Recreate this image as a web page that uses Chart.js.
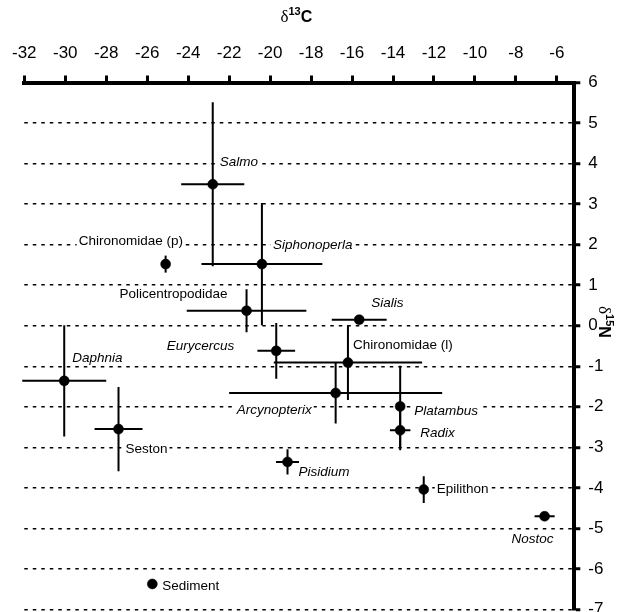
<!DOCTYPE html>
<html>
<head>
<meta charset="utf-8">
<style>
  body { margin: 0; background: #fff; }
  #wrap { width: 618px; height: 612px; overflow: hidden; }
</style>
</head>
<body>
<div id="wrap"><canvas id="mychart" width="618" height="640"></canvas></div>
<script src="https://cdn.jsdelivr.net/npm/chart.js"></script>
<script>

// taxa and their isotope means / sd
const taxa = ['Salmo', 'Chironomidae (p)', 'Siphonoperla', 'Policentropodidae', 'Sialis',
  'Chironomidae (l)', 'Eurycercus', 'Daphnia', 'Arcynopterix', 'Platambus', 'Radix',
  'Seston', 'Pisidium', 'Epilithon', 'Nostoc', 'Sediment'];
const d13C = [-22.8, -25.1, -20.4, -21.15, -15.65, -16.2, -19.7, -30.05, -16.8, -13.65, -13.65,
  -27.4, -19.15, -12.5, -6.6, -25.75];
const d15N = [3.49, 1.52, 1.52, 0.37, 0.15, -0.91, -0.62, -1.36, -1.66, -1.99, -2.58,
  -2.55, -3.36, -4.04, -4.7, -6.37];
const sdC = [1.54, 0, 2.95, 2.92, 1.34, 3.62, 0.92, 2.05, 5.2, 0.2, 0.5, 1.17, 0.56, 0.15, 0.49, 0];
const sdN = [2.02, 0.21, 1.51, 0.53, 0, 0.92, 0.69, 1.37, 0.75, 1.0, 0.49, 1.04, 0.31, 0.33, 0, 0];

const xTicks = [-32, -30, -28, -26, -24, -22, -20, -18, -16, -14, -12, -10, -8, -6];
const yTicks = [6, 5, 4, 3, 2, 1, 0, -1, -2, -3, -4, -5, -6, -7];

const FONT = '"Liberation Sans", Arial, sans-serif';

// where each name sits next to its dot (pixels), and if it is italic
const labelPos = [
  { dx: 7, dy: -22, align: 'left', it: true },
  { dx: -87, dy: -23, align: 'left', it: false },
  { dx: 11, dy: -19, align: 'left', it: true },
  { dx: -19, dy: -16, align: 'right', it: false },
  { dx: 12, dy: -16, align: 'left', it: true },
  { dx: 5, dy: -17, align: 'left', it: false },
  { dx: -42, dy: -5, align: 'right', it: true },
  { dx: 8, dy: -23, align: 'left', it: true },
  { dx: -24, dy: 17, align: 'right', it: true },
  { dx: 14, dy: 5, align: 'left', it: true },
  { dx: 20, dy: 3, align: 'left', it: true },
  { dx: 7, dy: 20, align: 'left', it: false },
  { dx: 11, dy: 10, align: 'left', it: true },
  { dx: 13, dy: 0, align: 'left', it: false },
  { dx: 9, dy: 23, align: 'right', it: true },
  { dx: 10, dy: 2, align: 'left', it: false }
];

const whiteBg = {
  id: 'whiteBg',
  beforeDraw(chart) {
    const ctx = chart.ctx;
    ctx.save();
    ctx.fillStyle = '#fff';
    ctx.fillRect(0, 0, chart.width, chart.height);
    ctx.restore();
  }
};

const errorBars = {
  id: 'errorBars',
  beforeDatasetsDraw(chart) {
    const { ctx, scales: { x, y } } = chart;
    ctx.save();
    // names first, their white boxes break the dotted lines
    ctx.textBaseline = 'middle';
    taxa.forEach((name, i) => {
      const p = labelPos[i];
      const px = x.getPixelForValue(d13C[i]);
      const py = y.getPixelForValue(d15N[i]);
      ctx.font = (p.it ? 'italic ' : '') + '13.5px ' + FONT;
      const w = ctx.measureText(name).width;
      const left = p.align === 'right' ? px + p.dx - w : px + p.dx;
      const cy = py + p.dy;
      ctx.fillStyle = '#fff';
      ctx.fillRect(left - 2, cy - 8, w + 4, 16);
      ctx.fillStyle = '#000';
      ctx.textAlign = 'left';
      ctx.fillText(name, left, cy);
    });

    ctx.strokeStyle = '#000';
    ctx.lineWidth = 2;
    d13C.forEach((c, i) => {
      const px = x.getPixelForValue(c);
      const py = y.getPixelForValue(d15N[i]);
      ctx.beginPath();
      if (sdC[i]) {
        ctx.moveTo(x.getPixelForValue(c - sdC[i]), py);
        ctx.lineTo(x.getPixelForValue(c + sdC[i]), py);
      }
      if (sdN[i]) {
        ctx.moveTo(px, y.getPixelForValue(d15N[i] + sdN[i]));
        ctx.lineTo(px, y.getPixelForValue(d15N[i] - sdN[i]));
      }
      ctx.stroke();
    });
    ctx.restore();
  }
};

function isoTitle(ctx, sup, letter) {
  const parts = [
    { t: '\u03B4', f: '17px "Liberation Serif", serif', r: 0 },
    { t: sup, f: 'bold 11px ' + FONT, r: -7 },
    { t: letter, f: 'bold 16px ' + FONT, r: 0 }
  ];
  let total = 0;
  parts.forEach(p => { ctx.font = p.f; p.w = ctx.measureText(p.t).width; total += p.w; });
  let cx = -total / 2;
  ctx.textAlign = 'left';
  ctx.textBaseline = 'alphabetic';
  ctx.fillStyle = '#000';
  parts.forEach(p => {
    ctx.font = p.f;
    ctx.fillText(p.t, cx, p.r);
    cx += p.w;
  });
}

const axisTitles = {
  id: 'axisTitles',
  afterDraw(chart) {
    const { ctx, chartArea } = chart;
    ctx.save();
    ctx.translate((chartArea.left + chartArea.right) / 2 - 3, 22);
    isoTitle(ctx, '13', 'C');
    ctx.restore();

    ctx.save();
    ctx.translate(599, 322);
    ctx.rotate(Math.PI / 2);
    isoTitle(ctx, '15', 'N');
    ctx.restore();
  }
};

let mychart = document.getElementById('mychart').getContext('2d');

let isoChart = new Chart(mychart, {
  type: 'scatter',
  data: {
    datasets: [{
      label: 'taxa',
      data: d13C.map((c, i) => ({ x: c, y: d15N[i] })),
      pointRadius: 5,
      pointBackgroundColor: '#000',
      pointBorderColor: '#000',
      pointBorderWidth: 0.5,
      clip: false
    }]
  },
  options: {
    responsive: false,
    animation: false,
    layout: { padding: { left: 21.7, right: 0, top: 0, bottom: 30.5 } },
    plugins: {
      legend: { display: false },
      tooltip: { enabled: false }
    },
    scales: {
      x: {
        type: 'linear',
        position: 'top',
        min: -32,
        max: -5.15,
        afterBuildTicks: s => { s.ticks = xTicks.map(v => ({ value: v })); },
        afterFit: s => { s.height = 82.5; },
        grid: { drawOnChartArea: false, drawTicks: true, tickLength: 7, tickWidth: 3, tickColor: '#000' },
        border: { display: true, color: '#000', width: 4 },
        ticks: { color: '#000', font: { family: FONT, size: 17 }, padding: 12, maxRotation: 0, autoSkip: false }
      },
      y: {
        type: 'linear',
        position: 'right',
        min: -7,
        max: 6,
        afterBuildTicks: s => { s.ticks = yTicks.map(v => ({ value: v })); },
        afterFit: s => { s.width = 43.7; },
        grid: { color: '#000', lineWidth: 1.5, tickLength: 6, tickWidth: 3, tickColor: '#000' },
        border: { display: true, color: '#000', width: 4, dash: [3.5, 5] },
        ticks: { color: '#000', font: { family: FONT, size: 17 }, padding: 8, autoSkip: false }
      }
    }
  },
  plugins: [whiteBg, errorBars, axisTitles]
});

</script>
</body>
</html>
